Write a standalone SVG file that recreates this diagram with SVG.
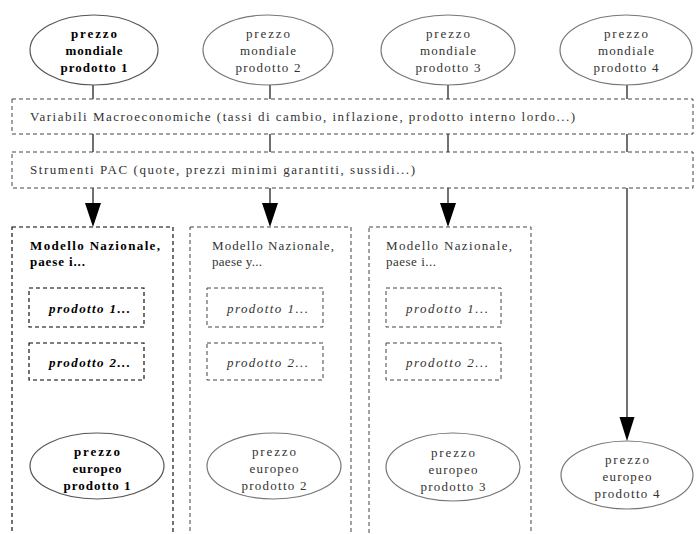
<svg xmlns="http://www.w3.org/2000/svg" width="696" height="534" viewBox="0 0 696 534">
<style>
text{font-family:"Liberation Serif","Times New Roman",serif;font-size:13px;fill:#333}
.b{font-weight:bold;fill:#000}
.i{font-style:italic}
.m{text-anchor:middle}
.ell{fill:#fff;stroke:#777;stroke-width:1.2}
.dbox{fill:none;stroke:#444;stroke-width:1;stroke-dasharray:4,3}
.dbk{fill:none;stroke:#000;stroke-width:1.1;stroke-dasharray:4,3}
.ln{stroke:#111;stroke-width:1.2;fill:none}
</style>
<rect width="696" height="534" fill="#fff"/>

<g id="connectors">
<line class="ln" x1="93" y1="85" x2="93" y2="99"/>
<line class="ln" x1="270" y1="85" x2="270" y2="99"/>
<line class="ln" x1="448" y1="85" x2="448" y2="99"/>
<line class="ln" x1="627" y1="85" x2="627" y2="99"/>
<line class="ln" x1="93" y1="134" x2="93" y2="152"/>
<line class="ln" x1="270" y1="134" x2="270" y2="152"/>
<line class="ln" x1="448" y1="134" x2="448" y2="152"/>
<line class="ln" x1="627" y1="134" x2="627" y2="152"/>
<path class="ln" d="M93,188 V203"/>
<path d="M85,203 L101,203 L93,227 Z" fill="#000"/>
<path class="ln" d="M270,188 V203"/>
<path d="M262,203 L278,203 L270,227 Z" fill="#000"/>
<path class="ln" d="M448,188 V203"/>
<path d="M440,203 L456,203 L448,227 Z" fill="#000"/>
<path class="ln" d="M627,188 V417"/>
<path d="M619.5,417 L634.5,417 L627,441 Z" fill="#000"/>
</g>

<g id="mondiale1">
<ellipse class="ell" cx="94" cy="50" rx="64" ry="35" style="stroke:#555"/>
<text class="b m" x="94" y="38" textLength="46">prezzo</text>
<text class="b m" x="94" y="55" textLength="57">mondiale</text>
<text class="b m" x="94" y="72" textLength="67">prodotto 1</text>
</g>
<g id="mondiale2">
<ellipse class="ell" cx="268" cy="50" rx="65" ry="35"/>
<text class="m" x="268" y="38" textLength="44">prezzo</text>
<text class="m" x="268" y="55" textLength="56">mondiale</text>
<text class="m" x="268" y="72" textLength="65">prodotto 2</text>
</g>
<g id="mondiale3">
<ellipse class="ell" cx="448" cy="50" rx="67" ry="35"/>
<text class="m" x="448" y="38" textLength="44">prezzo</text>
<text class="m" x="448" y="55" textLength="56">mondiale</text>
<text class="m" x="448" y="72" textLength="65">prodotto 3</text>
</g>
<g id="mondiale4">
<ellipse class="ell" cx="626" cy="50" rx="66" ry="35"/>
<text class="m" x="626" y="38" textLength="44">prezzo</text>
<text class="m" x="626" y="55" textLength="56">mondiale</text>
<text class="m" x="626" y="72" textLength="65">prodotto 4</text>
</g>

<g id="macro">
<rect class="dbox" x="12" y="99" width="681" height="35"/>
<text x="30" y="121" textLength="545" lengthAdjust="spacing">Variabili Macroeconomiche (tassi di cambio, inflazione, prodotto interno lordo...)</text>
</g>
<g id="pac">
<rect class="dbox" x="12" y="152" width="681" height="36"/>
<text x="30" y="174" textLength="385" lengthAdjust="spacing">Strumenti PAC (quote, prezzi minimi garantiti, sussidi...)</text>
</g>

<g id="modello1">
<rect class="dbk" x="12" y="227" width="161" height="320"/>
<text class="b" x="30" y="250" textLength="130">Modello Nazionale,</text>
<text class="b" x="30" y="266" textLength="55">paese i...</text>
<g id="m1p1">
<rect class="dbk" x="29" y="288" width="115" height="39"/>
<text class="b i" x="49" y="313" textLength="81">prodotto 1...</text>
</g>
<g id="m1p2">
<rect class="dbk" x="29" y="343" width="115" height="37"/>
<text class="b i" x="49" y="367" textLength="81">prodotto 2...</text>
</g>
</g>
<g id="modello2">
<rect class="dbox" x="190" y="227" width="161" height="320"/>
<text x="212" y="250" textLength="122">Modello Nazionale,</text>
<text x="212" y="266" textLength="50">paese y...</text>
<g id="m2p1">
<rect class="dbox" x="207" y="288" width="116" height="39"/>
<text class="i" x="227" y="313" textLength="81">prodotto 1...</text>
</g>
<g id="m2p2">
<rect class="dbox" x="207" y="343" width="116" height="37"/>
<text class="i" x="227" y="367" textLength="81">prodotto 2...</text>
</g>
</g>
<g id="modello3">
<rect class="dbox" x="369" y="227" width="162" height="320"/>
<text x="386" y="250" textLength="126">Modello Nazionale,</text>
<text x="386" y="266" textLength="50">paese i...</text>
<g id="m3p1">
<rect class="dbox" x="386" y="288" width="115" height="39"/>
<text class="i" x="406" y="313" textLength="82">prodotto 1...</text>
</g>
<g id="m3p2">
<rect class="dbox" x="386" y="343" width="115" height="37"/>
<text class="i" x="406" y="367" textLength="82">prodotto 2...</text>
</g>
</g>

<g id="europeo1">
<ellipse class="ell" cx="97" cy="466" rx="67" ry="33" style="stroke:#555"/>
<text class="b m" x="97" y="456" textLength="46">prezzo</text>
<text class="b m" x="97" y="473" textLength="49">europeo</text>
<text class="b m" x="97" y="490" textLength="67">prodotto 1</text>
</g>
<g id="europeo2">
<ellipse class="ell" cx="274" cy="466" rx="67" ry="33"/>
<text class="m" x="274" y="456" textLength="44">prezzo</text>
<text class="m" x="274" y="473" textLength="49">europeo</text>
<text class="m" x="274" y="490" textLength="65">prodotto 2</text>
</g>
<g id="europeo3">
<ellipse class="ell" cx="453" cy="467" rx="67" ry="34"/>
<text class="m" x="453" y="457" textLength="44">prezzo</text>
<text class="m" x="453" y="474" textLength="49">europeo</text>
<text class="m" x="453" y="491" textLength="65">prodotto 3</text>
</g>
<g id="europeo4">
<ellipse class="ell" cx="627" cy="475" rx="66" ry="34"/>
<text class="m" x="627" y="464" textLength="44">prezzo</text>
<text class="m" x="627" y="481" textLength="49">europeo</text>
<text class="m" x="627" y="498" textLength="65">prodotto 4</text>
</g>
</svg>
